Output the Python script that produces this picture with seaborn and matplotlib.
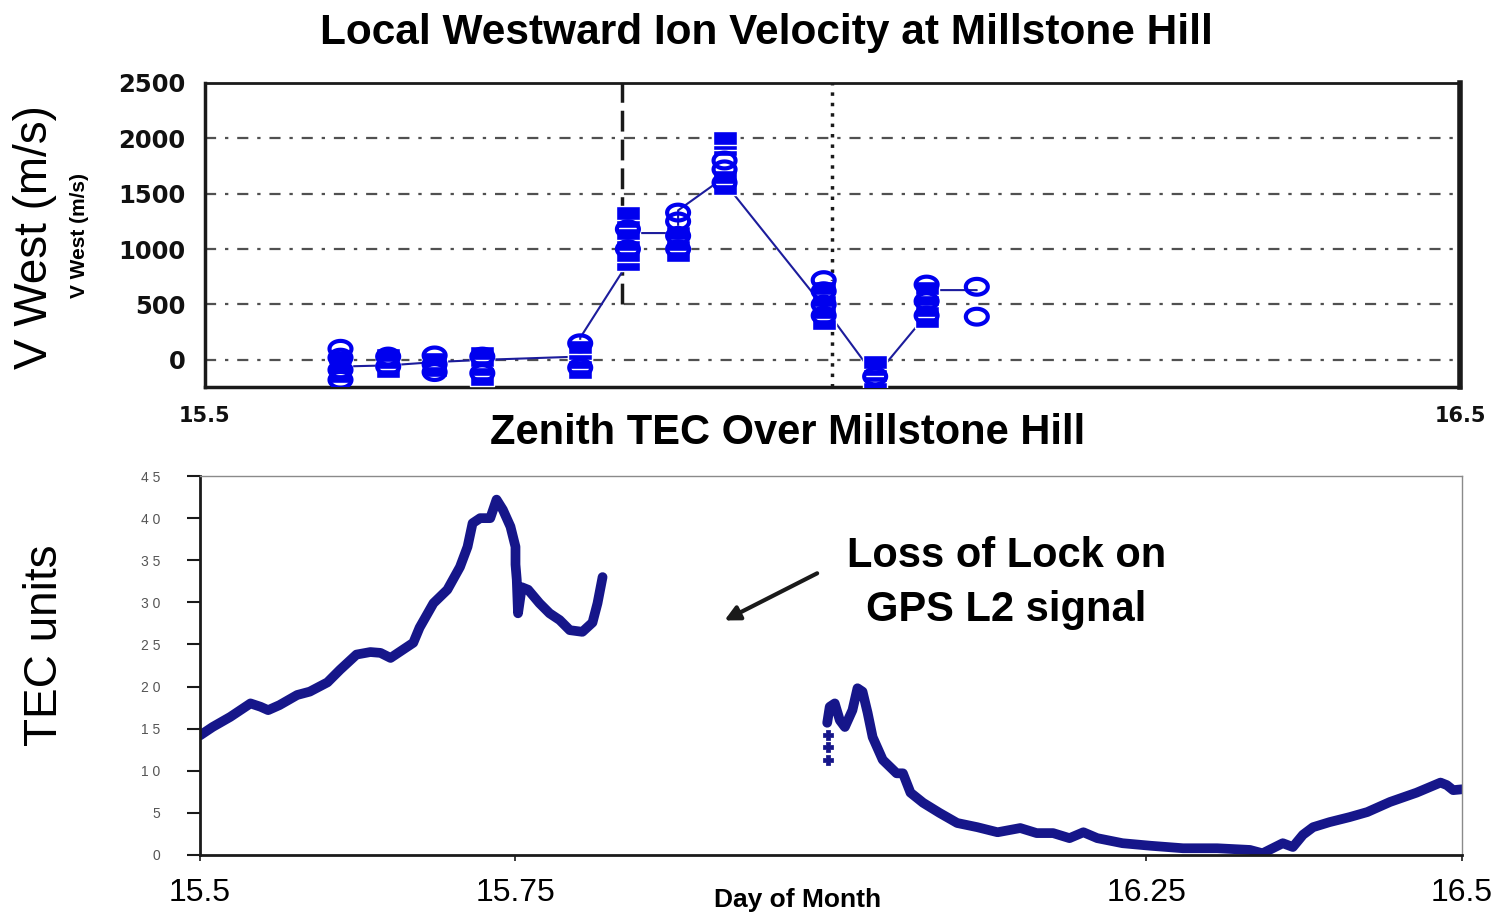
import numpy as np
import pandas as pd
import matplotlib
matplotlib.use("Agg")
import matplotlib.pyplot as plt
from matplotlib.path import Path
import seaborn as sns

# ---------------- Ion velocity (upper panel) ----------------
cluster_times = [15.608, 15.646, 15.683, 15.721, 15.799, 15.837,
                 15.877, 15.914, 15.993, 16.034, 16.075, 16.115]
square_vals = [
    [-150, -60, 30],
    [-100, -20, 40],
    [-90, 10],
    [-170, -80, 0, 60],
    [-110, -20, 60, 120],
    [870, 950, 1050, 1150, 1250, 1330],
    [950, 1050, 1150],
    [1550, 1650, 1900, 1960, 2000],
    [330, 430, 540, 650],
    [-200, -140, -80, -20],
    [350, 450, 550, 650],
    [],
]
circle_vals = [
    [-180, -90, 20, 100],
    [-60, 30],
    [-110, -40, 40],
    [-120, 30],
    [-70, 150],
    [1000, 1180],
    [1000, 1120, 1250, 1330],
    [1600, 1720, 1800],
    [400, 500, 620, 720],
    [-150],
    [400, 530, 680],
    [390, 660],
]
trace_t = [15.608, 15.646, 15.683, 15.721, 15.799, 15.799, 15.837, 15.837,
           15.877, 15.877, 15.914, 15.914, 15.993, 16.034, 16.075, 16.075, 16.115]
trace_v = [-60, -50, -20, 0, 30, 200, 875, 1145,
           1145, 1350, 1650, 1600, 480, -150, 410, 630, 630]
vel_ticks = [0, 500, 1000, 1500, 2000, 2500]
vel_grid = [0, 500, 1000, 1500, 2000]
onset_time = 15.832
onset_floor = 500
midnight = 16.0
vel_xticks = [15.5, 16.5]

# ---------------- Zenith TEC (lower panel) ----------------
tec_t1 = [15.500, 15.510, 15.524, 15.540, 15.548, 15.554, 15.563, 15.577, 15.587,
          15.601, 15.611, 15.624, 15.635, 15.643, 15.651, 15.658, 15.669, 15.674,
          15.685, 15.696, 15.706, 15.712, 15.716, 15.722, 15.730, 15.735, 15.740,
          15.746, 15.750, 15.750, 15.751, 15.752, 15.755, 15.760, 15.769, 15.777,
          15.785, 15.793, 15.803, 15.811, 15.815, 15.819]
tec_v1 = [14.2, 15.2, 16.4, 18.0, 17.6, 17.2, 17.8, 19.0, 19.4,
          20.5, 22.0, 23.8, 24.1, 24.0, 23.4, 24.1, 25.2, 27.0,
          29.9, 31.5, 34.2, 36.6, 39.4, 40.0, 40.0, 42.2, 41.0,
          39.0, 36.6, 34.5, 32.7, 28.7, 31.8, 31.5, 29.9, 28.7,
          27.9, 26.7, 26.5, 27.6, 29.9, 33.0]
tec_t2 = [15.997, 15.999, 16.003, 16.007, 16.011, 16.017, 16.021, 16.025, 16.029,
          16.033, 16.041, 16.052, 16.057, 16.063, 16.073, 16.086, 16.100, 16.116,
          16.132, 16.150, 16.163, 16.176, 16.189, 16.200, 16.211, 16.231, 16.253,
          16.279, 16.306, 16.332, 16.342, 16.358, 16.366, 16.374, 16.382, 16.395,
          16.411, 16.425, 16.443, 16.464, 16.483, 16.488, 16.493, 16.500]
tec_v2 = [15.7, 17.6, 18.0, 16.0, 15.2, 17.2, 19.8, 19.4, 16.9,
          14.0, 11.3, 9.7, 9.7, 7.4, 6.2, 5.0, 3.8, 3.3,
          2.7, 3.2, 2.6, 2.6, 2.0, 2.7, 2.0, 1.4, 1.1,
          0.8, 0.8, 0.6, 0.2, 1.4, 0.95, 2.4, 3.3, 3.9,
          4.5, 5.1, 6.3, 7.4, 8.6, 8.3, 7.7, 7.8]
relock_t = [15.998, 15.998, 15.998]
relock_v = [11.3, 12.8, 14.3]
tec_yticks = [0, 5, 10, 15, 20, 25, 30, 35, 40, 45]
tec_xticks = [15.5, 15.75, 16.25, 16.5]
tec_xlabels = ["15.5", "15.75", "16.25", "16.5"]

# ---------------- styling ----------------
sns.set_theme(style="white")
plt.rcParams["font.family"] = ["Liberation Sans", "DejaVu Sans"]
plt.rcParams["text.color"] = "black"
plt.rcParams["xtick.color"] = "black"
plt.rcParams["ytick.color"] = "black"
SANS = ["Liberation Sans", "DejaVu Sans"]
BLUE = "#0000ee"
NAVY = "#16168a"

fig = plt.figure(figsize=(14.97, 9.16), dpi=100)
fig.patch.set_facecolor("white")
ax1 = fig.add_axes([0.1369, 0.5775, 0.8384, 0.3319])
ax2 = fig.add_axes([0.1336, 0.0666, 0.8430, 0.4137])

# ---- upper panel ----
ax1.set_xlim(15.5, 16.5)
ax1.set_ylim(-245, 2500)
for g in vel_grid:
    ax1.axhline(g, color="#505050", lw=1.6, ls=(0, (5, 4, 1.5, 4)), zorder=1)
y0, y1 = ax1.get_ylim()
ax1.axvline(onset_time, ymin=(onset_floor - y0) / (y1 - y0), ymax=1,
            color="k", lw=2.5, ls=(0, (6, 2.3)), zorder=2)
ax1.axvline(midnight, color="k", lw=2.5, ls=(0, (1, 2)), zorder=2)

sns.lineplot(x=trace_t, y=trace_v, estimator=None, sort=False,
             color="#1c1c9c", lw=1.5, ax=ax1, zorder=2)

rect_marker = Path([(-1, -0.55), (1, -0.55), (1, 0.55), (-1, 0.55), (-1, -0.55)], closed=True)
th = np.linspace(0, 2 * np.pi, 41)
oval_marker = Path(np.column_stack([np.cos(th), 0.72 * np.sin(th)]), closed=True)

sq_df = pd.DataFrame([(t, v) for t, vals in zip(cluster_times, square_vals) for v in vals],
                     columns=["t", "v"])
ci_df = pd.DataFrame([(t, v) for t, vals in zip(cluster_times, circle_vals) for v in vals],
                     columns=["t", "v"])
# squares: solid blue bodies with thin white outlines; circles: open blue rings
sns.scatterplot(data=sq_df, x="t", y="v", marker=rect_marker, s=300, ax=ax1,
                zorder=3, legend=False)
coll = ax1.collections[-1]
coll.set_facecolor(BLUE)
coll.set_edgecolor("white")
coll.set_linewidth(1.0)
sns.scatterplot(data=ci_df, x="t", y="v", marker=oval_marker, s=250, ax=ax1,
                zorder=4, legend=False)
coll = ax1.collections[-1]
coll.set_facecolor("none")
coll.set_edgecolor(BLUE)
coll.set_linewidth(3.0)

ax1.set_yticks(vel_ticks)
ax1.set_yticklabels([str(v) for v in vel_ticks], fontsize=17.5, fontweight="bold",
                    family="DejaVu Sans")
ax1.set_xticks(vel_xticks)
ax1.set_xticklabels([str(v) for v in vel_xticks], fontsize=15, fontweight="bold",
                    family="DejaVu Sans")
ax1.tick_params(axis="y", length=0, pad=14, colors="#111")
ax1.tick_params(axis="x", length=0, pad=14, colors="#111")
ax1.set_xlabel("")
ax1.set_ylabel("")
for side, lw in [("top", 2), ("left", 2.5), ("bottom", 2.5), ("right", 4)]:
    ax1.spines[side].set_visible(True)
    ax1.spines[side].set_color("k")
    ax1.spines[side].set_linewidth(lw)

# ---- lower panel ----
tec_df = pd.concat([
    pd.DataFrame({"t": tec_t1, "tec": tec_v1, "seg": 0}),
    pd.DataFrame({"t": tec_t2, "tec": tec_v2, "seg": 1}),
])
sns.lineplot(data=tec_df, x="t", y="tec", units="seg", estimator=None, sort=False,
             color=NAVY, lw=7, ax=ax2, legend=False)
sns.scatterplot(x=relock_t, y=relock_v, marker="P", s=45, color=NAVY,
                edgecolor=NAVY, ax=ax2, legend=False)
ax2.set_xlim(15.5, 16.5)
ax2.set_ylim(0, 45)
ax2.set_yticks(tec_yticks)
ax2.set_yticklabels([" ".join(str(v)) for v in tec_yticks], fontsize=10, color="#555")
ax2.set_xticks(tec_xticks)
ax2.set_xticklabels(tec_xlabels, fontsize=23, family=SANS)
ax2.tick_params(axis="y", direction="out", length=9.5, width=1.5, pad=19, color="k", left=True)
ax2.tick_params(axis="x", direction="out", length=4.5, width=1.2, pad=12, color="k", bottom=True)
ax2.set_xlabel("")
ax2.set_ylabel("")
for side in ["left", "bottom"]:
    ax2.spines[side].set_color("k")
    ax2.spines[side].set_linewidth(2)
for side in ["top", "right"]:
    ax2.spines[side].set_color("#8a8a8a")
    ax2.spines[side].set_linewidth(1)

ax2.text(16.139, 32.3, "Loss of Lock on\nGPS L2 signal", ha="center", va="center",
         fontsize=30, fontweight="bold", family=SANS, linespacing=1.45)
ax2.annotate("", xy=(15.9136, 27.7), xytext=(15.991, 33.6),
             arrowprops=dict(arrowstyle="-|>", color="k", lw=3, mutation_scale=22))

# ---- figure texts ----
fig.text(0.5117, 0.964, "Local Westward Ion Velocity at Millstone Hill", ha="center",
         va="center", fontsize=30.5, fontweight="bold", family=SANS)
fig.text(0.5264, 0.527, "Zenith TEC Over Millstone Hill", ha="center", va="center",
         fontsize=30, fontweight="bold", family=SANS)
fig.text(0.0234, 0.741, "V West (m/s)", rotation=90, ha="center", va="center", fontsize=33)
fig.text(0.053, 0.743, "V West (m/s)", rotation=90, ha="center", va="center",
         fontsize=15, fontweight="bold", family=SANS)
fig.text(0.030, 0.296, "TEC units", rotation=90, ha="center", va="center", fontsize=33)
fig.text(0.533, 0.0175, "Day of Month", ha="center", va="center", fontsize=19,
         fontweight="bold", family=SANS)

fig.savefig("out.png", dpi=100, facecolor="white")
